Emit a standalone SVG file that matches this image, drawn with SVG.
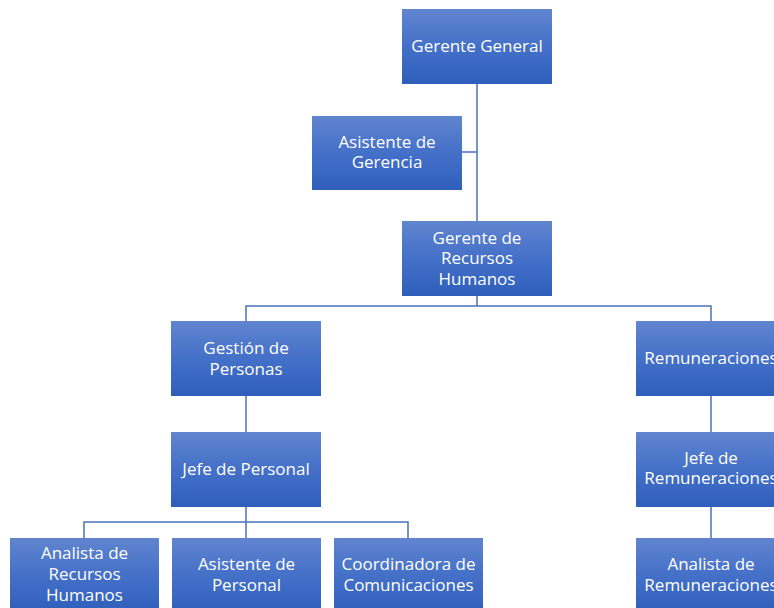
<svg xmlns="http://www.w3.org/2000/svg" width="774" height="608" viewBox="0 0 774 608">
<defs>
<linearGradient id="g" x1="0" y1="0" x2="0" y2="1">
<stop offset="0" stop-color="#6185cf"/>
<stop offset="0.5" stop-color="#4470c8"/>
<stop offset="1" stop-color="#2f5fbb"/>
</linearGradient>
</defs>
<style>
.box{fill:url(#g);}
text{font-family:"Open Sans","Liberation Sans",sans-serif;font-size:17px;fill:#ffffff;text-anchor:middle;dominant-baseline:central;}
.c{fill:none;stroke:#4a72bc;stroke-width:1.5;}
</style>
<rect width="774" height="608" fill="#ffffff"/>
<g id="connectors">
<path class="c" d="M477 84 V221"/>
<path class="c" d="M462 152 H477"/>
<path class="c" d="M477 296 V306 M246 321 V306 H711 V321"/>
<path class="c" d="M246 396 V432"/>
<path class="c" d="M711 396 V432"/>
<path class="c" d="M246 507 V538 M84 538 V522 H408 V538"/>
<path class="c" d="M711 507 V538"/>
</g>
<g id="gerente-general"><rect class="box" x="402" y="9" width="150" height="75"/><text x="477" y="45">Gerente General</text></g>
<g id="asistente-gerencia"><rect class="box" x="312" y="116" width="150" height="74"/><text x="387" y="141">Asistente de</text><text x="387" y="161">Gerencia</text></g>
<g id="gerente-rrhh"><rect class="box" x="402" y="221" width="150" height="75"/><text x="477" y="237">Gerente de</text><text x="477" y="257.5">Recursos</text><text x="477" y="278">Humanos</text></g>
<g id="gestion-personas"><rect class="box" x="171" y="321" width="150" height="75"/><text x="246" y="347">Gestión de</text><text x="246" y="368">Personas</text></g>
<g id="remuneraciones"><rect class="box" x="636" y="321" width="150" height="75"/><text x="711" y="357.5">Remuneraciones</text></g>
<g id="jefe-personal"><rect class="box" x="171" y="432" width="150" height="75"/><text x="246" y="468.5">Jefe de Personal</text></g>
<g id="jefe-remuneraciones"><rect class="box" x="636" y="432" width="150" height="75"/><text x="711" y="457">Jefe de</text><text x="711" y="477.5">Remuneraciones</text></g>
<g id="analista-rrhh"><rect class="box" x="10" y="538" width="149" height="75"/><text x="84.5" y="552">Analista de</text><text x="84.5" y="573">Recursos</text><text x="84.5" y="594">Humanos</text></g>
<g id="asistente-personal"><rect class="box" x="172" y="538" width="149" height="75"/><text x="246.5" y="563">Asistente de</text><text x="246.5" y="584">Personal</text></g>
<g id="coordinadora"><rect class="box" x="334" y="538" width="149" height="75"/><text x="408.5" y="563">Coordinadora de</text><text x="408.5" y="584">Comunicaciones</text></g>
<g id="analista-remuneraciones"><rect class="box" x="636" y="538" width="150" height="75"/><text x="711" y="563">Analista de</text><text x="711" y="584">Remuneraciones</text></g>
</svg>
